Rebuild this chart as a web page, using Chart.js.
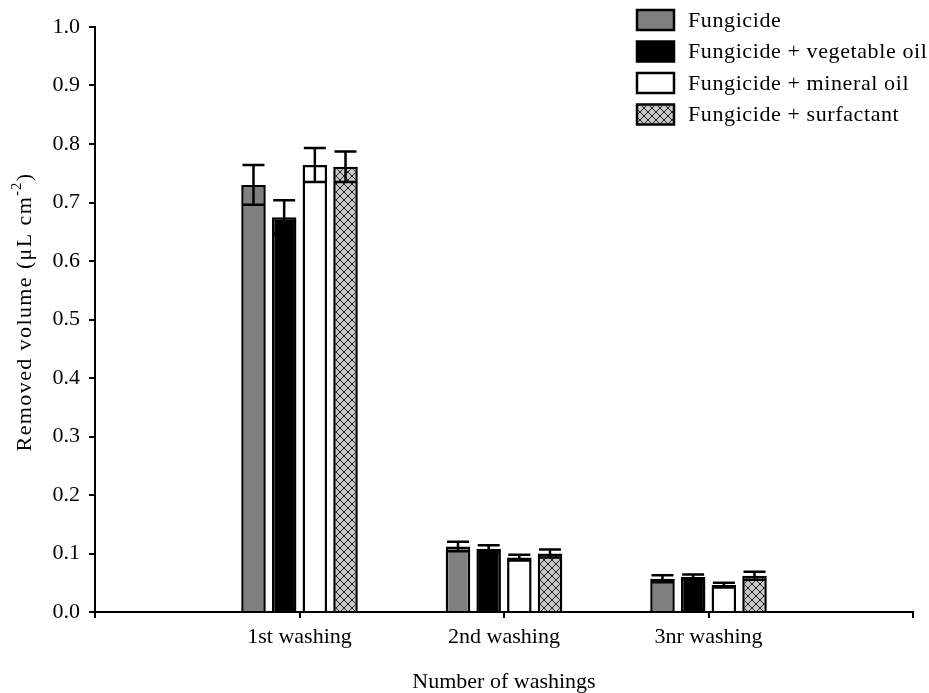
<!DOCTYPE html>
<html>
<head>
<meta charset="utf-8">
<script src="https://cdn.jsdelivr.net/npm/chart.js@4.4.0/dist/chart.umd.min.js"></script>
<style>
  body { margin: 0; background: #fff; }
  #wrap { width: 929px; height: 693px; }
</style>
</head>
<body>
<div id="wrap"><canvas id="chart" width="929" height="693"></canvas></div>
<script>
// categories (empty slots at both ends keep the axis running past the groups)
const categories = ['', '1st washing', '2nd washing', '3nr washing', '']
const series_names = ['Fungicide', 'Fungicide + vegetable oil', 'Fungicide + mineral oil', 'Fungicide + surfactant']

const fungicide = [null, 0.730, 0.112, 0.057, null]
const fungicide_err = [null, 0.034, 0.008, 0.006, null]
const vegetable_oil = [null, 0.675, 0.108, 0.060, null]
const vegetable_oil_err = [null, 0.029, 0.006, 0.004, null]
const mineral_oil = [null, 0.764, 0.093, 0.046, null]
const mineral_oil_err = [null, 0.029, 0.005, 0.004, null]
const surfactant = [null, 0.761, 0.100, 0.062, null]
const surfactant_err = [null, 0.026, 0.007, 0.007, null]

const y_ticks = [0.0, 0.1, 0.2, 0.3, 0.4, 0.5, 0.6, 0.7, 0.8, 0.9, 1.0]

const FONT = 'Liberation Serif, Times New Roman, serif'

function make_hatch() {
    var c = document.createElement('canvas')
    c.width = 8
    c.height = 8
    var g = c.getContext('2d')
    g.fillStyle = '#c8c8c8'
    g.fillRect(0, 0, 8, 8)
    g.strokeStyle = '#222'
    g.lineWidth = 1
    g.beginPath()
    g.moveTo(0, 0); g.lineTo(8, 8)
    g.moveTo(8, 0); g.lineTo(0, 8)
    g.stroke()
    return g.createPattern(c, 'repeat')
}

const errors = [fungicide_err, vegetable_oil_err, mineral_oil_err, surfactant_err]

const errorBars = {
    id: 'errorBars',
    afterDatasetsDraw(chart) {
        const ctx = chart.ctx
        const y = chart.scales.y
        ctx.save()
        ctx.strokeStyle = '#000'
        ctx.lineWidth = 2.5
        chart.data.datasets.forEach((ds, i) => {
            const meta = chart.getDatasetMeta(i)
            meta.data.forEach((bar, j) => {
                const v = ds.data[j]
                const e = errors[i][j]
                if (v == null || e == null) return
                const top = y.getPixelForValue(v + e)
                const bot = y.getPixelForValue(v - e)
                const half = 11
                ctx.beginPath()
                ctx.moveTo(bar.x, top); ctx.lineTo(bar.x, bot)
                ctx.moveTo(bar.x - half, top); ctx.lineTo(bar.x + half, top)
                ctx.moveTo(bar.x - half, bot); ctx.lineTo(bar.x + half, bot)
                ctx.stroke()
            })
        })
        ctx.restore()
    }
}

const legendBox = {
    id: 'legendBox',
    afterDraw(chart) {
        const ctx = chart.ctx
        ctx.save()
        ctx.font = '22px ' + FONT
        ctx.letterSpacing = '0.6px'
        ctx.textBaseline = 'middle'
        chart.data.datasets.forEach((ds, i) => {
            const cy = 20 + i * 31.5
            ctx.fillStyle = ds.backgroundColor
            ctx.fillRect(637, cy - 10, 37, 20)
            ctx.strokeStyle = '#000'
            ctx.lineWidth = 2.5
            ctx.strokeRect(637, cy - 10, 37, 20)
            ctx.fillStyle = '#000'
            ctx.fillText(ds.label, 688, cy + 1)
        })
        ctx.restore()
    }
}

const yTitle = {
    id: 'yTitle',
    afterDraw(chart) {
        const ctx = chart.ctx
        const main = '22px ' + FONT
        const sup = '14px ' + FONT
        const a = 'Removed volume (\u03bcL cm'
        const b = '-2'
        const c = ')'
        ctx.save()
        ctx.letterSpacing = '1.4px'
        ctx.font = main
        const wa = ctx.measureText(a).width
        const wc = ctx.measureText(c).width
        ctx.font = sup
        const wb = ctx.measureText(b).width
        const total = wa + wb + wc
        ctx.translate(25, 312)
        ctx.rotate(-Math.PI / 2)
        ctx.fillStyle = '#000'
        ctx.textBaseline = 'middle'
        let x = -total / 2
        ctx.font = main
        ctx.fillText(a, x, 0)
        x += wa
        ctx.font = sup
        ctx.fillText(b, x, -8)
        x += wb
        ctx.font = main
        ctx.fillText(c, x, 0)
        ctx.restore()
    }
}

document.addEventListener('DOMContentLoaded', function () {
    const colors = ['#808080', '#000000', '#ffffff', make_hatch()]
    const values = [fungicide, vegetable_oil, mineral_oil, surfactant]

    const datasets = series_names.map((name, i) => ({
        label: name,
        data: values[i],
        backgroundColor: colors[i],
        borderColor: '#000',
        borderWidth: 2.5,
        categoryPercentage: 0.6,
        barPercentage: 0.8
    }))

    new Chart(document.getElementById('chart').getContext('2d'), {
        type: 'bar',
        data: { labels: categories, datasets: datasets },
        options: {
            responsive: false,
            animation: false,
            devicePixelRatio: 1,
            layout: { padding: { left: 0, top: 27, right: 16, bottom: 0 } },
            plugins: {
                legend: { display: false },
                tooltip: { enabled: false }
            },
            scales: {
                x: {
                    offset: false,
                    grid: { offset: false, drawOnChartArea: false, drawTicks: true, tickLength: 6, color: '#000', lineWidth: 2 },
                    border: { display: true, color: '#000', width: 2 },
                    ticks: { color: '#000', font: { family: FONT, size: 22 }, padding: 6, autoSkip: false, maxRotation: 0 },
                    title: { display: true, text: 'Number of washings', color: '#000', font: { family: FONT, size: 22, lineHeight: 1.0 }, padding: 0 },
                    afterFit(scale) { scale.height = 81 }
                },
                y: {
                    min: 0,
                    max: 1,
                    afterBuildTicks(scale) { scale.ticks = y_ticks.map(v => ({ value: v })) },
                    grid: { drawOnChartArea: false, drawTicks: true, tickLength: 6, color: '#000', lineWidth: 2 },
                    border: { display: true, color: '#000', width: 2 },
                    ticks: { color: '#000', font: { family: FONT, size: 22 }, padding: 9, callback: v => v.toFixed(1) },
                    afterFit(scale) { scale.width = 95 }
                }
            }
        },
        plugins: [errorBars, legendBox, yTitle]
    })
})
</script>
</body>
</html>
